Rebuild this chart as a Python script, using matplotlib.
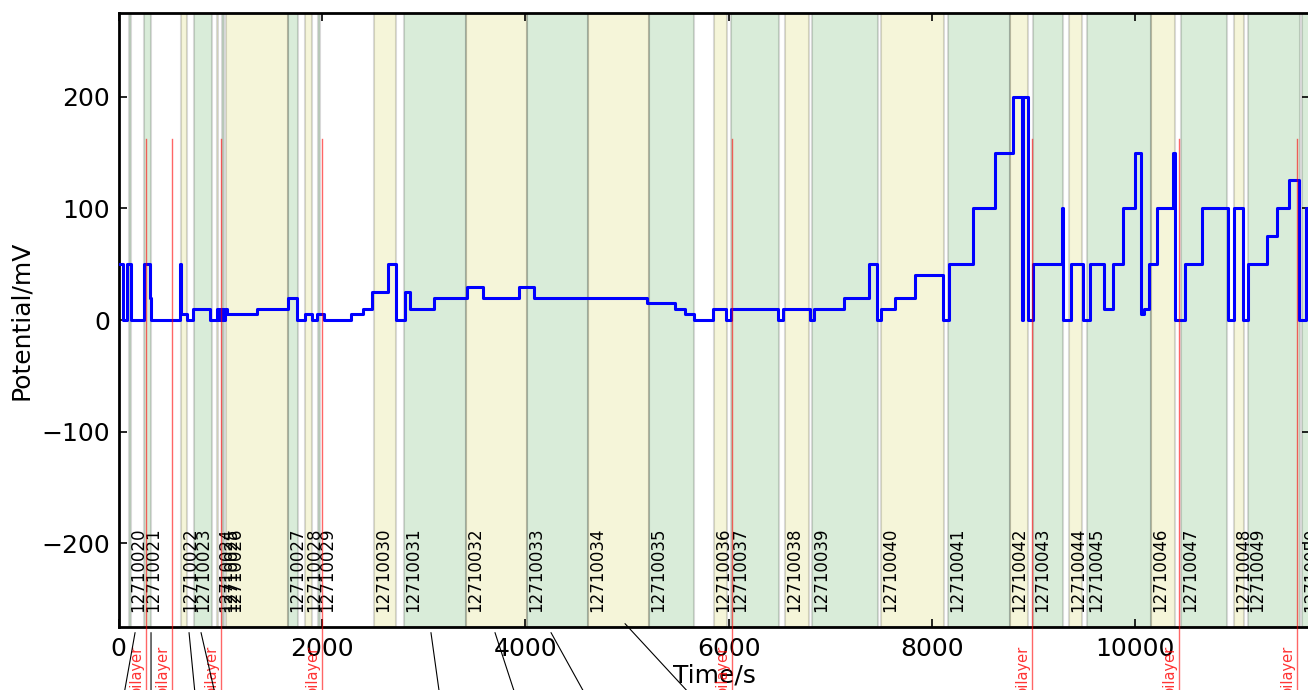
import matplotlib
matplotlib.use("Agg")
import matplotlib.pyplot as plt

# --- recorded files: id, start/end time (s), background colour ---
file_ids = [12710020, 12710021, 12710022, 12710023, 12710024, 12710025,
            12710026, 12710027, 12710028, 12710029, 12710030, 12710031,
            12710032, 12710033, 12710034, 12710035, 12710036, 12710037,
            12710038, 12710039, 12710040, 12710041, 12710042, 12710043,
            12710044, 12710045, 12710046, 12710047, 12710048, 12710049,
            12710050]
file_start = [100, 250, 613, 741, 967, 1016, 1056, 1666, 1833, 1961,
              2512, 2807, 3417, 4017, 4617, 5217, 5856, 6023, 6555, 6820,
              7499, 8158, 8768, 8995, 9349, 9526, 10156, 10451, 10973, 11110,
              11642]
file_end = [120, 318, 672, 918, 977, 1036, 1666, 1764, 1902, 1980,
            2728, 3417, 4017, 4617, 5217, 5660, 5984, 6496, 6791, 7470,
            8119, 8768, 8945, 9290, 9477, 10156, 10392, 10904, 11071, 11622,
            12200]
file_color = ['g', 'g', 'y', 'g', 'y', 'g', 'y', 'g', 'y', 'g',
              'y', 'g', 'y', 'g', 'y', 'g', 'y', 'g', 'y', 'g',
              'y', 'g', 'y', 'g', 'y', 'g', 'y', 'g', 'y', 'g',
              'g']

# --- applied potential (step changes) ---
step_time = [0, 42, 82, 121, 249, 308, 318, 603, 613, 672, 731, 898, 967,
             987, 1006, 1026, 1046, 1062, 1358, 1665, 1759, 1833, 1899, 1954,
             2015, 2285, 2400, 2489, 2652, 2728, 2817, 2866, 3102, 3424, 3587,
             3941, 4089, 5194, 5473, 5571, 5660, 5847, 5975, 6026, 6489, 6540,
             6801, 6840, 7135, 7384, 7457, 7497, 7637, 7837, 8107, 8166, 8408,
             8624, 8795, 8887, 8900, 8943, 8998, 9277, 9293, 9366, 9490, 9555,
             9693, 9779, 9877, 10001, 10060, 10087, 10139, 10218, 10375, 10395,
             10491, 10655, 10916, 10972, 11064, 11113, 11294, 11392, 11516,
             11615, 11683, 11800]
step_mv = [50, 0, 50, 0, 50, 20, 0, 50, 5, 0, 10, 0, 10,
           0, 10, 0, 10, 5, 10, 20, 0, 5, 0, 5,
           0, 5, 10, 25, 50, 0, 25, 10, 20, 30, 20,
           30, 20, 15, 10, 5, 0, 10, 0, 10, 0, 10,
           0, 10, 20, 50, 0, 10, 20, 40, 0, 50, 100,
           150, 200, 0, 200, 0, 50, 100, 0, 50, 0, 50,
           10, 50, 100, 150, 5, 10, 50, 100, 150, 0,
           50, 100, 0, 100, 0, 50, 75, 100, 125,
           0, 100, 100]

# --- bilayer formation events ---
bilayer_time = [266, 524, 1006, 1997, 6031, 8982, 10431, 11595]
bilayer_mark = 162

# --- note pointers running from below the time axis ---
note_time = [161, 318, 692, 810, 3072, 3702, 4253, 4981]
note_value = [-280, -280, -280, -280, -280, -280, -280, -272]
note_source = [53, 318, 751, 948, 3156, 3899, 4587, 5620]

plt.rcParams.update({
    'font.family': ['DejaVu Sans'],
    'font.size': 18,
    'xtick.direction': 'in',
    'ytick.direction': 'in',
    'xtick.top': True,
    'ytick.right': True,
    'xtick.major.size': 6,
    'ytick.major.size': 6,
    'xtick.major.width': 1.2,
    'ytick.major.width': 1.2,
    'xtick.major.pad': 7,
    'ytick.major.pad': 6,
    'axes.linewidth': 2.0,
})

W, H = 1308, 690
fig = plt.figure(figsize=(W / 100, H / 100), dpi=100)
ax = fig.add_axes([118.7 / W, 63 / H, (1310 - 118.7) / W, 614 / H])
ax.set_xlim(0, 11720)
ax.set_ylim(-275, 275)

for fid, s, e, c in zip(file_ids, file_start, file_end, file_color):
    ax.axvspan(s, e, facecolor=c, edgecolor='k', alpha=0.15, lw=1.5, zorder=0)
    ax.text(s, -262, str(fid), rotation=90, ha='left', va='bottom',
            fontsize=12, zorder=3)

ax.step(step_time, step_mv, where='post', color='#0000ff', lw=2.2, zorder=4)

for t in bilayer_time:
    ax.plot([t, t], [-420, bilayer_mark], color='red', alpha=0.6, lw=1,
            clip_on=False, zorder=5)
    ax.text(t - 25, -291, 'bilayer', rotation=90, ha='right', va='top',
            color='red', alpha=0.8, fontsize=10.5, clip_on=False)

for t, v, src in zip(note_time, note_value, note_source):
    ax.annotate('', xy=(t, v), xytext=(src, -335), annotation_clip=False,
                arrowprops=dict(arrowstyle='-', color='k', lw=0.8,
                                shrinkA=0, shrinkB=0))

ax.set_xticks([0, 2000, 4000, 6000, 8000, 10000])
ax.set_yticks([-200, -100, 0, 100, 200])
ax.set_xlabel('Time/s', labelpad=2)
ax.set_ylabel('Potential/mV', labelpad=6)

fig.savefig('out.png', dpi=100)
